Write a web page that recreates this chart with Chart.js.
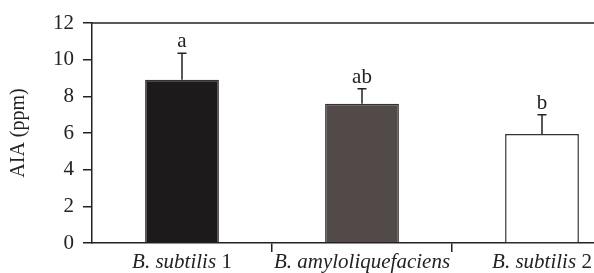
<!DOCTYPE html>
<html>
<head>
<meta charset="utf-8">
<script src="https://cdn.jsdelivr.net/npm/chart.js@4.4.0/dist/chart.umd.min.js"></script>
<style>
  html, body { margin: 0; padding: 0; background: #fff; overflow: hidden; }
  canvas { display: block; }
</style>
</head>
<body>
<canvas id="myChart" width="640" height="273"></canvas>
<script>
// data
const strains = ['B. subtilis', 'B. amyloliquefaciens', 'B. subtilis'];
const strainNumbers = [' 1', '', ' 2'];
const aiaValues = [8.9, 7.6, 5.95];
const aiaErrors = [1.45, 0.82, 1.05];
const letters = ['a', 'ab', 'b'];
const yTicks = [0, 2, 4, 6, 8, 10, 12];

const ink = '#222';
const serif = 'Liberation Serif';

// error bars + significance letters
const errorBars = {
    id: 'errorBars',
    afterDatasetsDraw(chart) {
        const ctx = chart.ctx;
        const y = chart.scales.y;
        const bars = chart.getDatasetMeta(0).data;
        ctx.save();
        ctx.strokeStyle = ink;
        ctx.lineWidth = 1.5;
        ctx.fillStyle = ink;
        ctx.font = '21px "' + serif + '"';
        ctx.textAlign = 'center';
        ctx.textBaseline = 'alphabetic';
        bars.forEach((bar, i) => {
            const top = y.getPixelForValue(aiaValues[i] + aiaErrors[i]);
            ctx.beginPath();
            ctx.moveTo(bar.x, bar.y);
            ctx.lineTo(bar.x, top);
            ctx.moveTo(bar.x - 4.5, top);
            ctx.lineTo(bar.x + 4.5, top);
            ctx.stroke();
            ctx.fillText(letters[i], bar.x, top - 6);
        });
        ctx.restore();
    }
};

// top frame line and mixed italic / roman category labels
const frameAndLabels = {
    id: 'frameAndLabels',
    afterDraw(chart) {
        const ctx = chart.ctx;
        const area = chart.chartArea;
        const x = chart.scales.x;
        ctx.save();
        ctx.strokeStyle = ink;
        ctx.lineWidth = 1.5;
        ctx.beginPath();
        ctx.moveTo(area.left, area.top);
        ctx.lineTo(area.right, area.top);
        ctx.stroke();

        ctx.fillStyle = ink;
        ctx.textBaseline = 'alphabetic';
        ctx.textAlign = 'left';
        strains.forEach((name, i) => {
            const cx = x.getPixelForValue(i);
            ctx.font = 'italic 21px "' + serif + '"';
            const w1 = ctx.measureText(name).width;
            ctx.font = '21px "' + serif + '"';
            const w2 = ctx.measureText(strainNumbers[i]).width;
            const start = cx - (w1 + w2) / 2;
            ctx.font = 'italic 21px "' + serif + '"';
            ctx.fillText(name, start, 268);
            ctx.font = '21px "' + serif + '"';
            ctx.fillText(strainNumbers[i], start + w1, 268);
        });
        ctx.restore();
    }
};

const data = {
    labels: strains.map((s, i) => s + strainNumbers[i]),
    datasets: [{
        data: aiaValues,
        backgroundColor: ['#1c1a1b', '#524a48', '#ffffff'],
        borderColor: '#333',
        borderWidth: 1.5,
        borderSkipped: 'bottom',
        barPercentage: 0.41,
        categoryPercentage: 1
    }]
};

const config = {
    type: 'bar',
    data: data,
    options: {
        responsive: false,
        animation: false,
        devicePixelRatio: 1,
        layout: {
            padding: { top: 23, right: 8, left: 0, bottom: 0 }
        },
        plugins: {
            legend: { display: false },
            tooltip: { enabled: false }
        },
        scales: {
            x: {
                offset: true,
                grid: {
                    offset: true,
                    drawOnChartArea: false,
                    tickLength: 9,
                    lineWidth: 1.5,
                    color: (c) => c.index === 0 ? 'rgba(0,0,0,0)' : ink
                },
                border: { color: ink, width: 1.5 },
                ticks: {
                    color: 'rgba(0,0,0,0)',
                    font: { family: serif, size: 21 }
                },
                afterFit(scale) { scale.height = 30; }
            },
            y: {
                min: 0,
                max: 12,
                afterBuildTicks(scale) {
                    scale.ticks = yTicks.map(v => ({ value: v }));
                },
                grid: {
                    drawOnChartArea: false,
                    tickLength: 9,
                    lineWidth: 1.5,
                    color: ink
                },
                border: { color: ink, width: 1.5 },
                ticks: {
                    color: ink,
                    padding: 9,
                    font: { family: serif, size: 21 }
                },
                title: {
                    display: true,
                    text: 'AIA (ppm)',
                    color: ink,
                    padding: { top: 7, bottom: 0 },
                    font: { family: serif, size: 20 }
                },
                afterFit(scale) { scale.width = 92; }
            }
        }
    },
    plugins: [errorBars, frameAndLabels]
};

let myChart = new Chart(document.getElementById('myChart').getContext('2d'), config);
</script>
</body>
</html>
